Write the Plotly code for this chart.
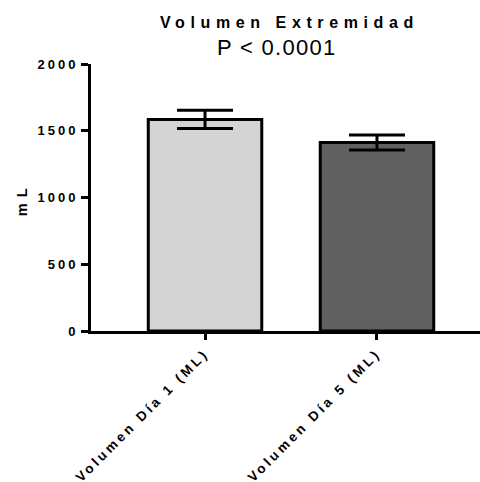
import plotly.graph_objects as go

# Limb volume by day (mean and error)
categories = ["Volumen Día 1 (ML)", "Volumen Día 5 (ML)"]
means = [1585, 1412]
errors = [69, 56]
bar_colors = ["#d4d4d4", "#606060"]
y_ticks = [0, 500, 1000, 1500, 2000]

FONT = "Liberation Sans, Arial, Helvetica, sans-serif"


def spaced(text, px, bold=True):
    inner = f"<b>{text}</b>" if bold else text
    return f'<span style="letter-spacing:{px}px">{inner}</span>'


fig = go.Figure()
fig.add_trace(go.Bar(
    x=categories,
    y=means,
    width=0.66,
    marker=dict(color=bar_colors, line=dict(color="black", width=3)),
    error_y=dict(type="data", array=errors, visible=True,
                 color="black", thickness=3, width=28),
))

fig.update_layout(
    width=480, height=482,
    margin=dict(l=91, r=0, t=64, b=151, autoexpand=False),
    paper_bgcolor="white", plot_bgcolor="white",
    showlegend=False,
    font=dict(family=FONT, color="black"),
    xaxis=dict(
        range=[-0.663, 1.599],
        automargin=False,
        showline=True, linecolor="black", linewidth=3,
        ticks="outside", ticklen=6, tickwidth=2.5, tickcolor="black",
        tickangle=-45,
        tickvals=categories,
        ticktext=[spaced(c, 3.2) for c in categories],
        tickfont=dict(size=13.5, family=FONT),
        showgrid=False, zeroline=False,
    ),
    yaxis=dict(
        range=[0, 2000],
        automargin=False,
        showline=True, linecolor="black", linewidth=3,
        ticks="outside", ticklen=7, tickwidth=2.5, tickcolor="black",
        tickvals=y_ticks,
        ticktext=[spaced(str(v), 3.0) for v in y_ticks],
        tickfont=dict(size=13, family=FONT),
        showgrid=False, zeroline=False,
    ),
    annotations=[
        dict(text=spaced("Volumen Extremidad", 5.6), xref="paper", yref="paper",
             x=0.509, y=1.1536, xanchor="center", yanchor="middle",
             showarrow=False, font=dict(size=16, family=FONT)),
        dict(text=spaced("P < 0.0001", 1.3, bold=False), xref="paper", yref="paper",
             x=0.479, y=1.063, xanchor="center", yanchor="middle",
             showarrow=False, font=dict(size=22, family=FONT)),
        dict(text=spaced("mL", 6), xref="paper", yref="paper",
             x=-0.177, y=0.494, xanchor="center", yanchor="middle",
             textangle=-90, showarrow=False,
             font=dict(size=14.5, family=FONT)),
    ],
)

fig.write_html("out.html")
